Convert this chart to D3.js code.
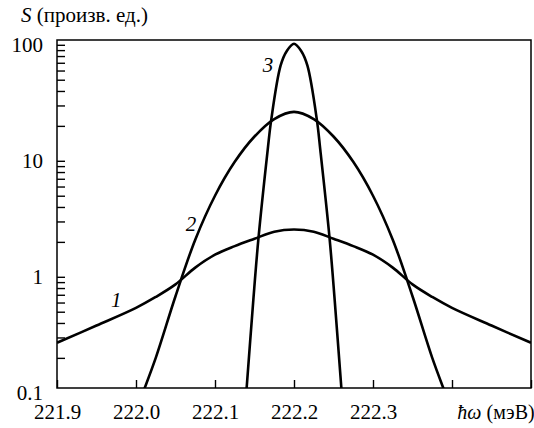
<!DOCTYPE html>
<html>
<head>
<meta charset="utf-8">
<script src="https://cdn.jsdelivr.net/npm/d3@7"></script>
<style>
  html, body { margin: 0; padding: 0; background: #fff; }
  svg { display: block; }
</style>
</head>
<body>
<svg id="chart" width="534" height="428"></svg>
<script>
// Photon energy (meV) and spectral intensity (arb. units), three spectra
const energy1 = [221.90, 221.95, 222.00, 222.025, 222.05, 222.075, 222.10, 222.125, 222.15, 222.175, 222.20,
                 222.225, 222.25, 222.275, 222.30, 222.325, 222.35, 222.375, 222.40, 222.45, 222.50];
const spectrum1 = [0.27, 0.38, 0.54, 0.67, 0.86, 1.20, 1.55, 1.84, 2.13, 2.45, 2.56,
                   2.45, 2.13, 1.84, 1.55, 1.20, 0.86, 0.67, 0.54, 0.38, 0.27];

const energy2 = [221.995, 222.00, 222.025, 222.05, 222.075, 222.10, 222.125, 222.15, 222.175, 222.20,
                 222.225, 222.25, 222.275, 222.30, 222.325, 222.35, 222.375, 222.40, 222.405];
const spectrum2 = [0.05, 0.068, 0.20, 0.68, 2.09, 5.0, 9.8, 16.2, 22.9, 26.4,
                   22.9, 16.2, 9.8, 5.0, 2.09, 0.68, 0.20, 0.068, 0.05];

const energy3 = [222.136, 222.140, 222.1485, 222.155, 222.1667, 222.171, 222.183, 222.1907, 222.200,
                 222.2093, 222.217, 222.229, 222.2333, 222.245, 222.2515, 222.260, 222.264];
const spectrum3 = [0.05, 0.109, 0.63, 2.14, 12.4, 22.1, 66, 88, 102,
                   88, 66, 22.4, 12.4, 2.16, 0.63, 0.109, 0.05];

const seriesNames = ["1", "2", "3"];
const nameEnergy = [221.975, 222.0696, 222.167];
const nameLevel = [0.63, 2.89, 66.8];
const xTicks = [221.9, 222.0, 222.1, 222.2, 222.3, 222.4, 222.5];
const xTickLabels = ["221.9", "222.0", "222.1", "222.2", "222.3"];
const yTickLabels = ["0.1", "1", "10", "100"];
const yLabel = "(произв. ед.)";
const xLabel = "(мэВ)";

const svg = d3.select("#chart");
const plot = { left: 57, right: 531, top: 40, bottom: 388 };
const FONT = '"Liberation Serif"';
const FS = 21;

// every text node gets the serif face through its inline style
const serifText = (sel, size = FS) => sel.style("font-family", FONT).attr("font-size", size).attr("fill", "#000");

const x = d3.scaleLinear().domain([221.9, 222.5]).range([plot.left, plot.right]);
const y = d3.scaleLog().domain([0.11, 110]).range([plot.bottom, plot.top]);

// minor + major tick marks, pointing into the plot
const yTicks = [];
[0.1, 1, 10].forEach(d => { for (let k = 1; k <= 9; k++) yTicks.push(+(d * k).toPrecision(3)); });
yTicks.push(100);
const yTicksIn = yTicks.filter(v => v >= 0.11 && v <= 110);

svg.append("g")
  .attr("transform", `translate(${plot.left},0)`)
  .call(d3.axisLeft(y).tickValues(yTicksIn).tickSize(-8).tickFormat(""))
  .call(g => g.select(".domain").remove())
  .call(g => g.selectAll("text").remove())
  .selectAll("line").attr("stroke", "#000").attr("stroke-width", 1.4);

svg.append("g")
  .attr("transform", `translate(0,${plot.bottom})`)
  .call(d3.axisBottom(x).tickValues(xTicks).tickSize(-8).tickFormat(""))
  .call(g => g.select(".domain").remove())
  .call(g => g.selectAll("text").remove())
  .selectAll("line").attr("stroke", "#000").attr("stroke-width", 1.4);

// tick labels
const yLab = svg.append("g")
  .attr("transform", `translate(${plot.left},0)`)
  .call(d3.axisLeft(y).tickValues(yTickLabels.map(Number)).tickSize(0).tickPadding(14)
    .tickFormat((d, i) => yTickLabels[i]))
  .call(g => g.select(".domain").remove());
yLab.attr("font-family", null);
serifText(yLab.selectAll("text"));

const xLab = svg.append("g")
  .attr("transform", `translate(0,${plot.bottom})`)
  .call(d3.axisBottom(x).tickValues(xTickLabels.map(Number)).tickSize(0).tickPadding(16)
    .tickFormat((d, i) => xTickLabels[i]))
  .call(g => g.select(".domain").remove());
xLab.attr("font-family", null);
serifText(xLab.selectAll("text"));

// frame
svg.append("rect")
  .attr("x", plot.left).attr("y", plot.top)
  .attr("width", plot.right - plot.left).attr("height", plot.bottom - plot.top)
  .attr("fill", "none").attr("stroke", "#000").attr("stroke-width", 1.5);

// curves
svg.append("clipPath").attr("id", "plot-clip")
  .append("rect").attr("x", plot.left).attr("y", plot.top - 3)
  .attr("width", plot.right - plot.left).attr("height", plot.bottom - plot.top + 3);

const line = d3.line()
  .x(d => x(d[0])).y(d => y(d[1]))
  .curve(d3.curveCatmullRom.alpha(0.5));

const series = [
  d3.zip(energy1, spectrum1),
  d3.zip(energy2, spectrum2),
  d3.zip(energy3, spectrum3)
];

svg.append("g").attr("clip-path", "url(#plot-clip)")
  .selectAll("path").data(series).join("path")
  .attr("d", line)
  .attr("fill", "none").attr("stroke", "#000").attr("stroke-width", 2.6)
  .attr("stroke-linejoin", "round");

// curve numbers
svg.append("g").selectAll("text").data(seriesNames).join("text")
  .attr("x", (d, i) => x(nameEnergy[i]))
  .attr("y", (d, i) => y(nameLevel[i]))
  .attr("text-anchor", "middle").attr("dy", "0.35em")
  .call(serifText)
  .style("font-style", "italic")
  .text(d => d);

// axis titles
const yt = svg.append("text").attr("x", 21).attr("y", 22).call(serifText);
yt.append("tspan").style("font-style", "italic").text("S");
yt.append("tspan").text(" " + yLabel);

const xt = svg.append("text").attr("x", x(222.4) + 44).attr("y", plot.bottom + 31)
  .attr("text-anchor", "middle").call(serifText, 20);
xt.append("tspan").style("font-style", "italic").text("ħω");
xt.append("tspan").text(" " + xLabel);
</script>
</body>
</html>
